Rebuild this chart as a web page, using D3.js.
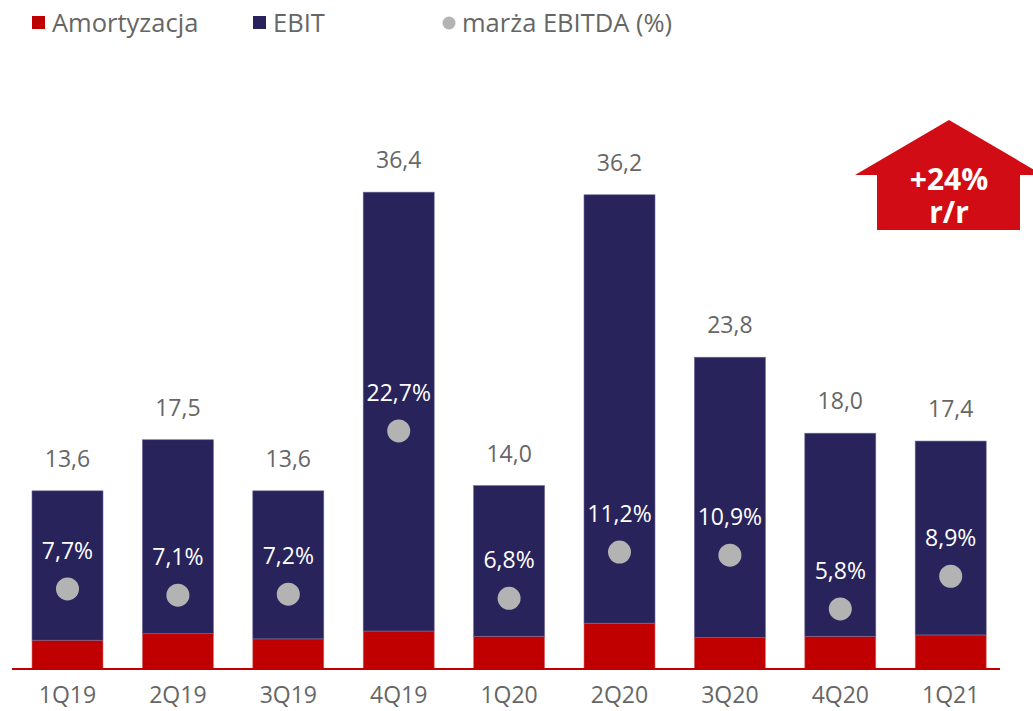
<!DOCTYPE html>
<html>
<head>
<meta charset="utf-8">
<script src="https://cdn.jsdelivr.net/npm/d3@7"></script>
<style>
  body { margin: 0; background: #fff; }
  svg { display: block; font-family: 'Open Sans', sans-serif; }
</style>
</head>
<body>
<script>
// quarterly data
var categories = ['1Q19', '2Q19', '3Q19', '4Q19', '1Q20', '2Q20', '3Q20', '4Q20', '1Q21'];
var amortyzacja = [2.2, 2.7, 2.3, 2.9, 2.5, 3.5, 2.4, 2.5, 2.6];
var ebit = [11.4, 14.8, 11.3, 33.5, 11.5, 32.7, 21.4, 15.5, 14.8];
var ebitda = [13.6, 17.5, 13.6, 36.4, 14.0, 36.2, 23.8, 18.0, 17.4];
var marza = [7.7, 7.1, 7.2, 22.7, 6.8, 11.2, 10.9, 5.8, 8.9];
var legendLabels = ['Amortyzacja', 'EBIT', 'marża EBITDA (%)'];
var badgeLines = ['+24%', 'r/r'];

var width = 1033, height = 711;
var red = '#c00000', navy = '#29235c', grey = '#b3b3b3', textGrey = '#666666';

var svg = d3.select('body').append('svg')
  .attr('width', width)
  .attr('height', height);

var x = d3.scaleBand()
  .domain(categories)
  .range([12.3, 1005.9])
  .paddingInner(0.357)
  .paddingOuter(0.1785);

var y = d3.scaleLinear().domain([0, 40]).range([669, 145]);
// margin on its own scale
var y2 = d3.scaleLinear().domain([0, 30]).range([670, 354]);

var fmt = function(v) { return d3.format('.1f')(v).replace('.', ','); };

var rows = categories.map(function(c, i) {
  return { cat: c, amort: amortyzacja[i], ebit: ebit[i], total: ebitda[i], marza: marza[i] };
});

// stacked bars
svg.selectAll('.amort')
  .data(rows)
  .enter()
  .append('rect')
  .attr('x', function(d) { return x(d.cat); })
  .attr('y', function(d) { return y(d.amort); })
  .attr('width', x.bandwidth())
  .attr('height', function(d) { return y(0) - y(d.amort); })
  .attr('fill', red)
  .attr('stroke', '#d96a6a')
  .attr('stroke-width', 0.6);

svg.selectAll('.ebit')
  .data(rows)
  .enter()
  .append('rect')
  .attr('x', function(d) { return x(d.cat); })
  .attr('y', function(d) { return y(d.amort + d.ebit); })
  .attr('width', x.bandwidth())
  .attr('height', function(d) { return y(d.amort) - y(d.amort + d.ebit); })
  .attr('fill', navy)
  .attr('stroke', '#6a6796')
  .attr('stroke-width', 0.6);

// baseline
svg.append('line')
  .attr('x1', 12).attr('x2', 1000)
  .attr('y1', y(0)).attr('y2', y(0))
  .attr('stroke', red)
  .attr('stroke-width', 2);

// totals above bars
svg.selectAll('.total')
  .data(rows)
  .enter()
  .append('text')
  .text(function(d) { return fmt(d.total); })
  .attr('x', function(d) { return x(d.cat) + x.bandwidth() / 2; })
  .attr('y', function(d) { return y(d.total) - 24; })
  .attr('text-anchor', 'middle')
  .attr('font-size', '23px')
  .attr('fill', textGrey);

// margin dots + labels
svg.selectAll('.dot')
  .data(rows)
  .enter()
  .append('circle')
  .attr('cx', function(d) { return x(d.cat) + x.bandwidth() / 2; })
  .attr('cy', function(d) { return y2(d.marza); })
  .attr('r', 11.5)
  .attr('fill', grey);

svg.selectAll('.marza')
  .data(rows)
  .enter()
  .append('text')
  .text(function(d) { return fmt(d.marza) + '%'; })
  .attr('x', function(d) { return x(d.cat) + x.bandwidth() / 2; })
  .attr('y', function(d) { return y2(d.marza) - 30; })
  .attr('text-anchor', 'middle')
  .attr('font-size', '23px')
  .attr('font-weight', 500)
  .attr('fill', '#ffffff');

// category labels
svg.selectAll('.cat')
  .data(categories)
  .enter()
  .append('text')
  .text(function(d) { return d; })
  .attr('x', function(d) { return x(d) + x.bandwidth() / 2; })
  .attr('y', 703)
  .attr('text-anchor', 'middle')
  .attr('font-size', '23px')
  .attr('fill', textGrey);

// legend
var legend = svg.append('g');
legend.append('rect').attr('x', 32).attr('y', 16).attr('width', 13).attr('height', 13).attr('fill', red);
legend.append('text').text(legendLabels[0]).attr('x', 52).attr('y', 32)
  .attr('font-size', '25.5px').attr('fill', textGrey);
legend.append('rect').attr('x', 253).attr('y', 16).attr('width', 13).attr('height', 13).attr('fill', navy);
legend.append('text').text(legendLabels[1]).attr('x', 273).attr('y', 32)
  .attr('font-size', '25.5px').attr('fill', textGrey);
legend.append('circle').attr('cx', 449).attr('cy', 23).attr('r', 6.5).attr('fill', grey);
legend.append('text').text(legendLabels[2]).attr('x', 462).attr('y', 32)
  .attr('font-size', '25.5px').attr('fill', textGrey);

// +24% r/r arrow
var badge = svg.append('g');
badge.append('path')
  .attr('d', 'M855,175 L949,120 L1043,175 L1020,175 L1020,230 L877,230 L877,175 Z')
  .attr('fill', '#d20c14');
badge.selectAll('text')
  .data(badgeLines)
  .enter()
  .append('text')
  .text(function(d) { return d; })
  .attr('x', 949)
  .attr('y', function(d, i) { return 190 + i * 33; })
  .attr('text-anchor', 'middle')
  .attr('font-size', '30px')
  .attr('font-weight', 700)
  .attr('fill', '#ffffff');
</script>
</body>
</html>
